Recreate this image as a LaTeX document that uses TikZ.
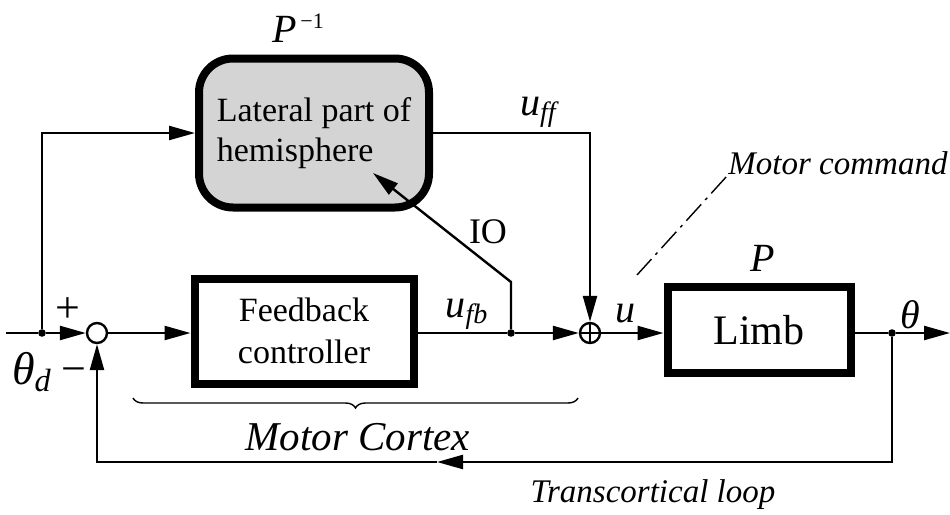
\documentclass[tikz,border=0pt]{standalone}
\usepackage{fontspec}
\setmainfont{Liberation Serif}
\usetikzlibrary{positioning,arrows.meta,decorations.pathreplacing}
\definecolor{hemifill}{RGB}{212,212,212}
\tikzset{
  block/.style={rectangle,draw=black,line width=4pt,align=center,inner sep=2pt,font=\fontsize{17}{21}\selectfont},
  roundblock/.style={rectangle,rounded corners=17pt,draw=black,line width=4pt,fill=hemifill,align=left,inner sep=2pt,font=\fontsize{17}{20}\selectfont},
  sumnode/.style={circle,draw=black,line width=1.2pt,minimum size=10pt,inner sep=0pt},
  plussum/.style={sumnode,path picture={\draw[line width=0.8pt] (path picture bounding box.north) -- (path picture bounding box.south) (path picture bounding box.west) -- (path picture bounding box.east);}},
  dot/.style={circle,fill=black,minimum size=3.8pt,inner sep=0pt},
  wire/.style={line width=1.2pt},
  edge/.style={-{Triangle[length=13pt,width=7pt]},line width=1.2pt},
  lbl/.style={inner sep=1pt,font=\fontsize{18}{20}\selectfont},
  note/.style={inner sep=1pt,font=\fontsize{16.5}{19}\selectfont\itshape}
}
\begin{document}
\begin{tikzpicture}[x=0.5pt,y=-0.5pt]
  \useasboundingbox (0,0) rectangle (950,515);
  \coordinate (in) at (6,333);
  \node[dot] (split) at (42,333) {};
  \node[sumnode] (sum1) at (97,333) {};
  \node[block,minimum width=109.5pt,minimum height=52.5pt] (fb) at (304,331) {Feedback\\controller};
  \node[dot] (fbsplit) at (511,333) {};
  \node[plussum] (sum2) at (590,333) {};
  \node[block,minimum width=91.5pt,minimum height=43pt,font=\fontsize{21}{24}\selectfont] (limb) at (759,330) {Limb};
  \node[dot] (outsplit) at (892,333) {};
  \coordinate (out) at (950,333);
  \node[roundblock,minimum width=115pt,minimum height=74.5pt] (hemi) at (314,133) {Lateral part of\\hemisphere};
  \coordinate (iobend) at (511,282);
  \coordinate (iotip) at (373,173);
  \coordinate (loopmid) at (437,462);
  \draw[wire] (in) -- (split);
  \draw[edge] (split) -- (sum1);
  \draw[edge] (split) |- (hemi.west);
  \draw[edge] (sum1) -- (sum1 -| fb.west);
  \draw[wire] (fb.east |- fbsplit) -- (fbsplit);
  \draw[edge] (fbsplit) -- (sum2);
  \draw[edge] (sum2) -- (sum2 -| limb.west);
  \draw[wire] (limb.east |- outsplit) -- (outsplit);
  \draw[edge] (outsplit) -- (out);
  \draw[edge] (hemi.east) -| (sum2);
  \draw[edge] (fbsplit) -- (iobend) -- (iotip);
  \draw[edge] (outsplit) |- (loopmid);
  \draw[edge] (loopmid) -| (sum1);
  \node[lbl,font=\fontsize{22}{24}\selectfont] (plus) at (68,310) {+};
  \node[lbl,font=\fontsize{22}{24}\selectfont] (minus) at (74,376) {−};
  \node[lbl,font=\fontsize{23}{25}\selectfont] (thetad) at (32,372) {\textit{θ}\textsubscript{\textit{d}}};
  \node[lbl,font=\fontsize{20}{22}\selectfont] (pinv) at (298,28) {\textit{P}\raisebox{7pt}{\fontsize{11}{12}\selectfont\,−1}};
  \node[lbl,font=\fontsize{20}{22}\selectfont] (uff) at (540,112) {\textit{u}\textsubscript{\textit{ff}}};
  \node[lbl,font=\fontsize{20}{22}\selectfont] (ufb) at (467,314) {\textit{u}\textsubscript{\textit{fb}}};
  \node[lbl] (io) at (488,232) {IO};
  \node[lbl,font=\fontsize{20}{22}\selectfont] (u) at (625,314) {\textit{u}};
  \node[lbl,font=\fontsize{20}{22}\selectfont] (plimb) at (763,258) {\textit{P}};
  \node[lbl,font=\fontsize{20}{22}\selectfont] (theta) at (910,315) {\textit{θ}};
  \node[note] (cmd) at (838,163) {Motor command};
  \coordinate (cmdpt) at (637,275);
  \draw[line width=0.7pt,dash pattern=on 11pt off 3pt on 1.5pt off 3pt] (cmd.south west) -- (cmdpt);
  \coordinate (brl) at (133,398);
  \coordinate (brr) at (578,398);
  \draw[line width=0.7pt,decorate,decoration={brace,mirror,amplitude=5pt}] (brl) -- (brr);
  \node[note,font=\fontsize{20.5}{23}\selectfont\itshape] (cortex) at (358,437) {Motor Cortex};
  \node[note] (loop) at (653,495) {Transcortical loop};
\end{tikzpicture}
\end{document}
